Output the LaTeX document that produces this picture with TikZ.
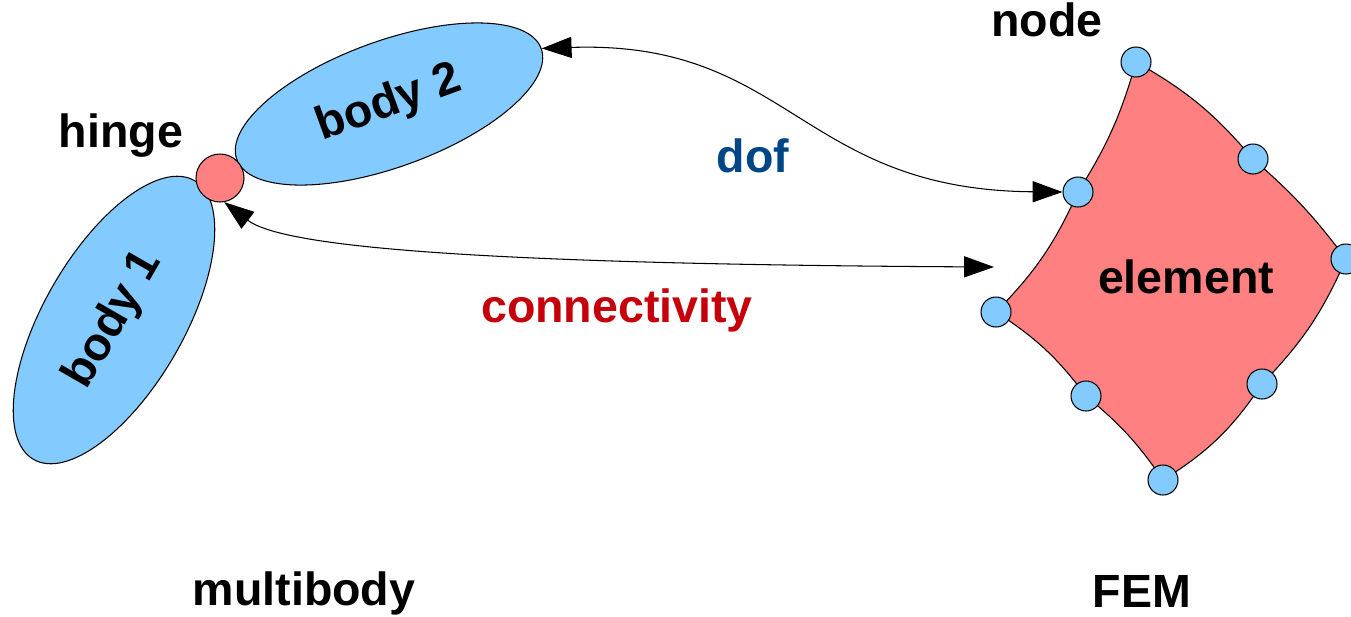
\documentclass[tikz,border=0pt]{standalone}
\usepackage{fontspec}
\setmainfont{Liberation Sans}
\usetikzlibrary{positioning,shapes.geometric,arrows.meta}
\definecolor{bodyblue}{RGB}{131,202,255}
\definecolor{hingered}{RGB}{255,128,128}
\definecolor{dofblue}{RGB}{0,69,134}
\definecolor{conred}{RGB}{197,0,11}

\begin{document}
\begin{tikzpicture}[x=0.02cm,y=-0.02cm,
		lbl/.style={font=\fontsize{26.5}{32}\selectfont\bfseries,inner sep=0pt},
		body/.style={ellipse,draw=black,fill=bodyblue,line width=0.6pt,inner sep=0pt,lbl},
		fenode/.style={circle,draw=black,fill=bodyblue,line width=0.6pt,minimum size=0.6cm,inner sep=0pt},
		link/.style={line width=0.6pt,{Triangle[length=17pt,width=12pt]}-{Triangle[length=17pt,width=12pt]}}]
		\useasboundingbox (0,0) rectangle (1351,616);
		
		% multibody side
		\node[body,minimum width=6.48cm,minimum height=2.52cm,rotate=20] (body2) at (389,104) {body 2};
		\node[body,minimum width=6.44cm,minimum height=2.8cm,rotate=60] (body1) at (114,320) {body 1};
		\node[circle,draw=black,fill=hingered,line width=0.6pt,minimum size=0.96cm,inner sep=0pt] (hinge) at (220,178) {};
		\node[lbl,anchor=base] (hingelbl) at (121,147) {hinge};
		
		% FEM element
		\coordinate (p1) at (1136,62);
		\coordinate (p2) at (1078,192);
		\coordinate (p3) at (996,312);
		\coordinate (p4) at (1086,396);
		\coordinate (p5) at (1163,480);
		\coordinate (p6) at (1262,384);
		\coordinate (p7) at (1346,259);
		\coordinate (p8) at (1253,159);
		\draw[fill=hingered,line width=0.6pt] (p1) to[bend left=8] (p2) to[bend left=10] (p3)
			to[bend left=10] (p4) to[bend left=8] (p5) to[bend right=12] (p6)
			to[bend right=10] (p7) to[bend right=6] (p8) to[bend right=10] (p1) -- cycle;
		\foreach \i in {1,...,8}{%
			\node[fenode] (n\i) at (p\i) {};
		}
		\node[lbl,anchor=base] (elemlbl) at (1186,293) {element};
		\node[lbl,anchor=base] (nodelbl) at (1047,36) {node};
		
		% links
		\draw[link] (body2.east) .. controls (790,40) and (800,190) .. (n2.west);
		\coordinate (elemin) at (994,267);
		\draw[link] (hinge.-80) .. controls (280,245) and (450,264) .. (elemin);
		\node[lbl,anchor=base,text=dofblue] (doflbl) at (753,172) {dof};
		\node[lbl,anchor=base,text=conred] (conlbl) at (617,322) {connectivity};
		
		\node[lbl,anchor=base] (mblbl) at (304,605) {multibody};
		\node[lbl,anchor=base] (femlbl) at (1142,607) {FEM};
	\end{tikzpicture}
\end{document}
